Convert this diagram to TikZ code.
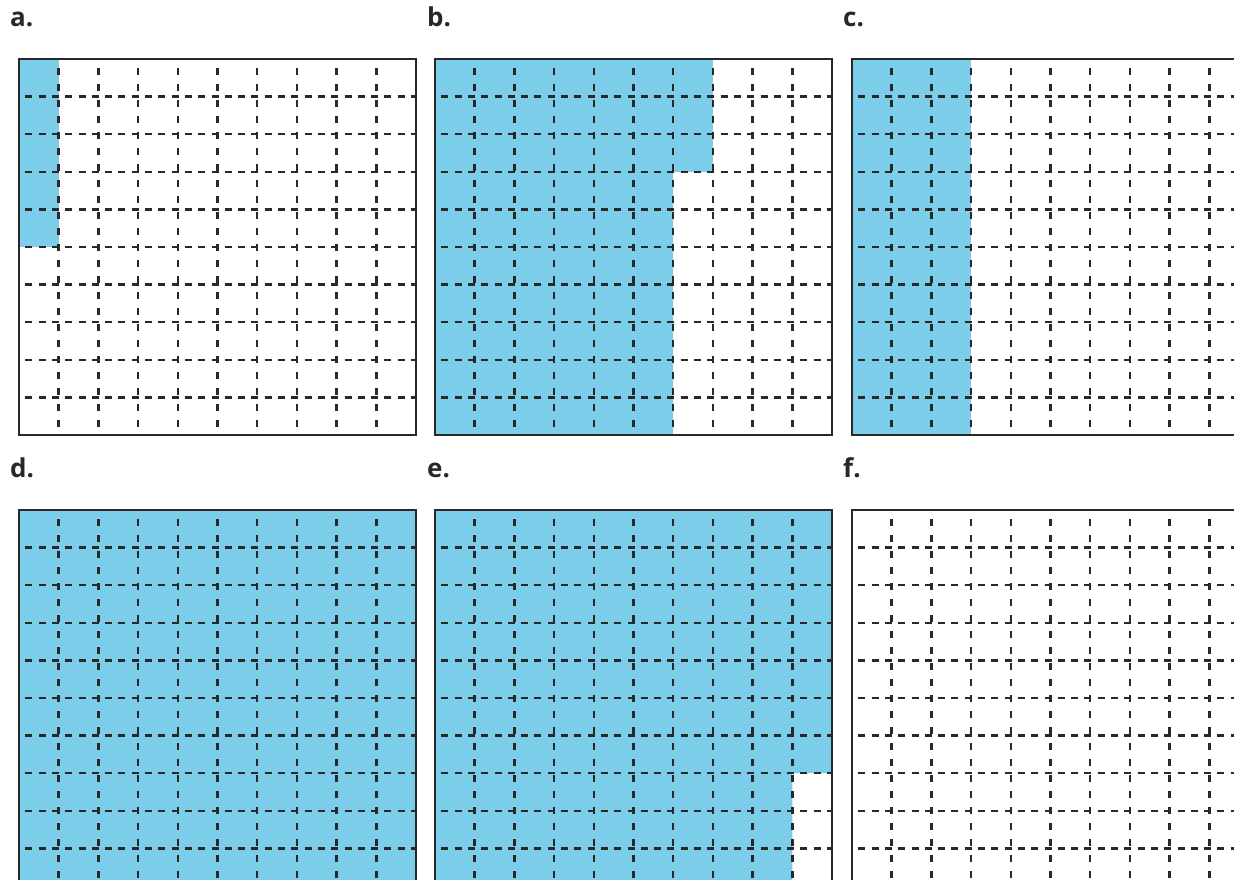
\documentclass[tikz,border=0pt]{standalone}
\usepackage{fontspec}
\setmainfont{Open Sans}
\definecolor{fillblue}{RGB}{125,206,235}
\definecolor{inkgray}{RGB}{40,40,40}
\tikzset{
  cellfill/.style={fill=fillblue, draw=none},
  hdash/.style={draw=inkgray, line width=2.5pt, dash pattern=on 7pt off 6.3pt, dash phase=7pt},
  vdash/.style={draw=inkgray, line width=2.5pt, dash pattern=on 7pt off 9pt, dash phase=7pt},
  gridframe/.style={draw=inkgray, line width=2.2pt},
  lbl/.style={font=\bfseries\fontsize{26}{26}\selectfont, anchor=base west, inner sep=0pt, text=inkgray},
  panel/.style={x=39.7pt, y=-37.6pt}
}
\newcommand{\dashgrid}{%
  \foreach \i in {1,...,9} {
    \draw[vdash] (\i,0) -- (\i,10);
    \draw[hdash] (0,\i) -- (10,\i);
  }
  \draw[gridframe] (0,0) rectangle (10,10);
}
\begin{document}
\begin{tikzpicture}[x=1pt,y=-1pt]
\useasboundingbox (0,0) rectangle (1234,880);
\clip (0,0) rectangle (1234,880);
\fill[white] (0,0) rectangle (1234,880);

% labels
\node[lbl] (la) at (10,27) {a.};
\node[lbl] (lb) at (427,27) {b.};
\node[lbl] (lc) at (843,27) {c.};
\node[lbl] (ld) at (10,477) {d.};
\node[lbl] (le) at (427,477) {e.};
\node[lbl] (lf) at (843,477) {f.};

% a
\begin{scope}[xshift=19pt, yshift=-59pt, panel]
  \fill[cellfill] (0,0) rectangle (1,5);
  \dashgrid
\end{scope}
% b
\begin{scope}[xshift=435pt, yshift=-59pt, panel]
  \fill[cellfill] (0,0) -- (7,0) -- (7,3) -- (6,3) -- (6,10) -- (0,10) -- cycle;
  \dashgrid
\end{scope}
% c
\begin{scope}[xshift=852pt, yshift=-59pt, panel]
  \fill[cellfill] (0,0) rectangle (3,10);
  \dashgrid
\end{scope}
% d
\begin{scope}[xshift=19pt, yshift=-510pt, panel]
  \fill[cellfill] (0,0) rectangle (10,10);
  \dashgrid
\end{scope}
% e
\begin{scope}[xshift=435pt, yshift=-510pt, panel]
  \fill[cellfill] (0,0) -- (10,0) -- (10,7) -- (9,7) -- (9,10) -- (0,10) -- cycle;
  \dashgrid
\end{scope}
% f
\begin{scope}[xshift=852pt, yshift=-510pt, panel]
  \dashgrid
\end{scope}
\end{tikzpicture}
\end{document}
